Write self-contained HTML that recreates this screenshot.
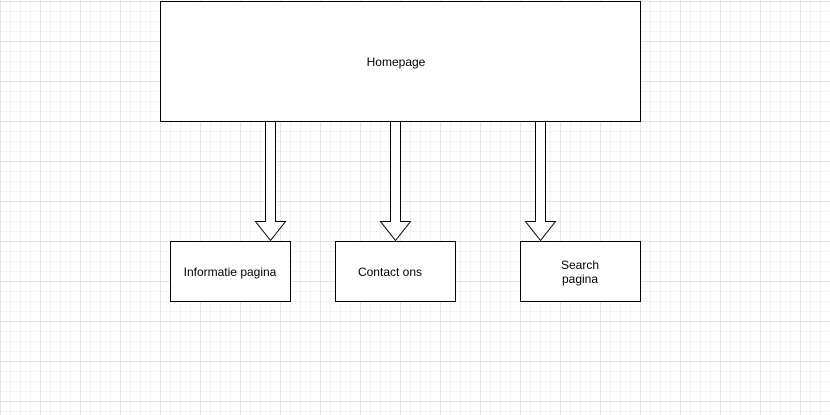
<!DOCTYPE html><html><head><style>
body{margin:0;width:830px;height:415px;overflow:hidden;background:#fff;
background-image:linear-gradient(#e4e4e4 1px,transparent 1px),linear-gradient(90deg,#e4e4e4 1px,transparent 1px),linear-gradient(#f3f3f3 1px,transparent 1px),linear-gradient(90deg,#f3f3f3 1px,transparent 1px);
background-size:40px 40px,40px 40px,10px 10px,10px 10px;background-position:0 1px,0 0,0 1px,0 0;}
text{font-family:"Liberation Sans",Arial,sans-serif;font-size:12px;fill:#000}
</style></head><body>
<svg width="830" height="415" style="position:absolute;left:0;top:0">
<g fill="#fff" stroke="#000" stroke-width="1">
<rect x="160.5" y="1.5" width="480" height="120"/>
<rect x="170.5" y="241.5" width="120" height="60"/>
<rect x="335.5" y="241.5" width="120" height="60"/>
<rect x="520.5" y="241.5" width="120" height="60"/>
<path d="M265.5 121.5V221.5H255.5L270.5 240.5L285.5 221.5H275.5V121.5Z"/>
<path d="M390.5 121.5V221.5H380.5L395.5 240.5L410.5 221.5H400.5V121.5Z"/>
<path d="M535.5 121.5V221.5H525.5L540.5 240.5L555.5 221.5H545.5V121.5Z"/>
</g>
<text x="396" y="66" text-anchor="middle">Homepage</text>
<text x="230" y="276" text-anchor="middle">Informatie pagina</text>
<text x="390" y="276" text-anchor="middle">Contact ons</text>
<text x="580" y="269" text-anchor="middle">Search</text>
<text x="580" y="283" text-anchor="middle">pagina</text>
</svg></body></html>
